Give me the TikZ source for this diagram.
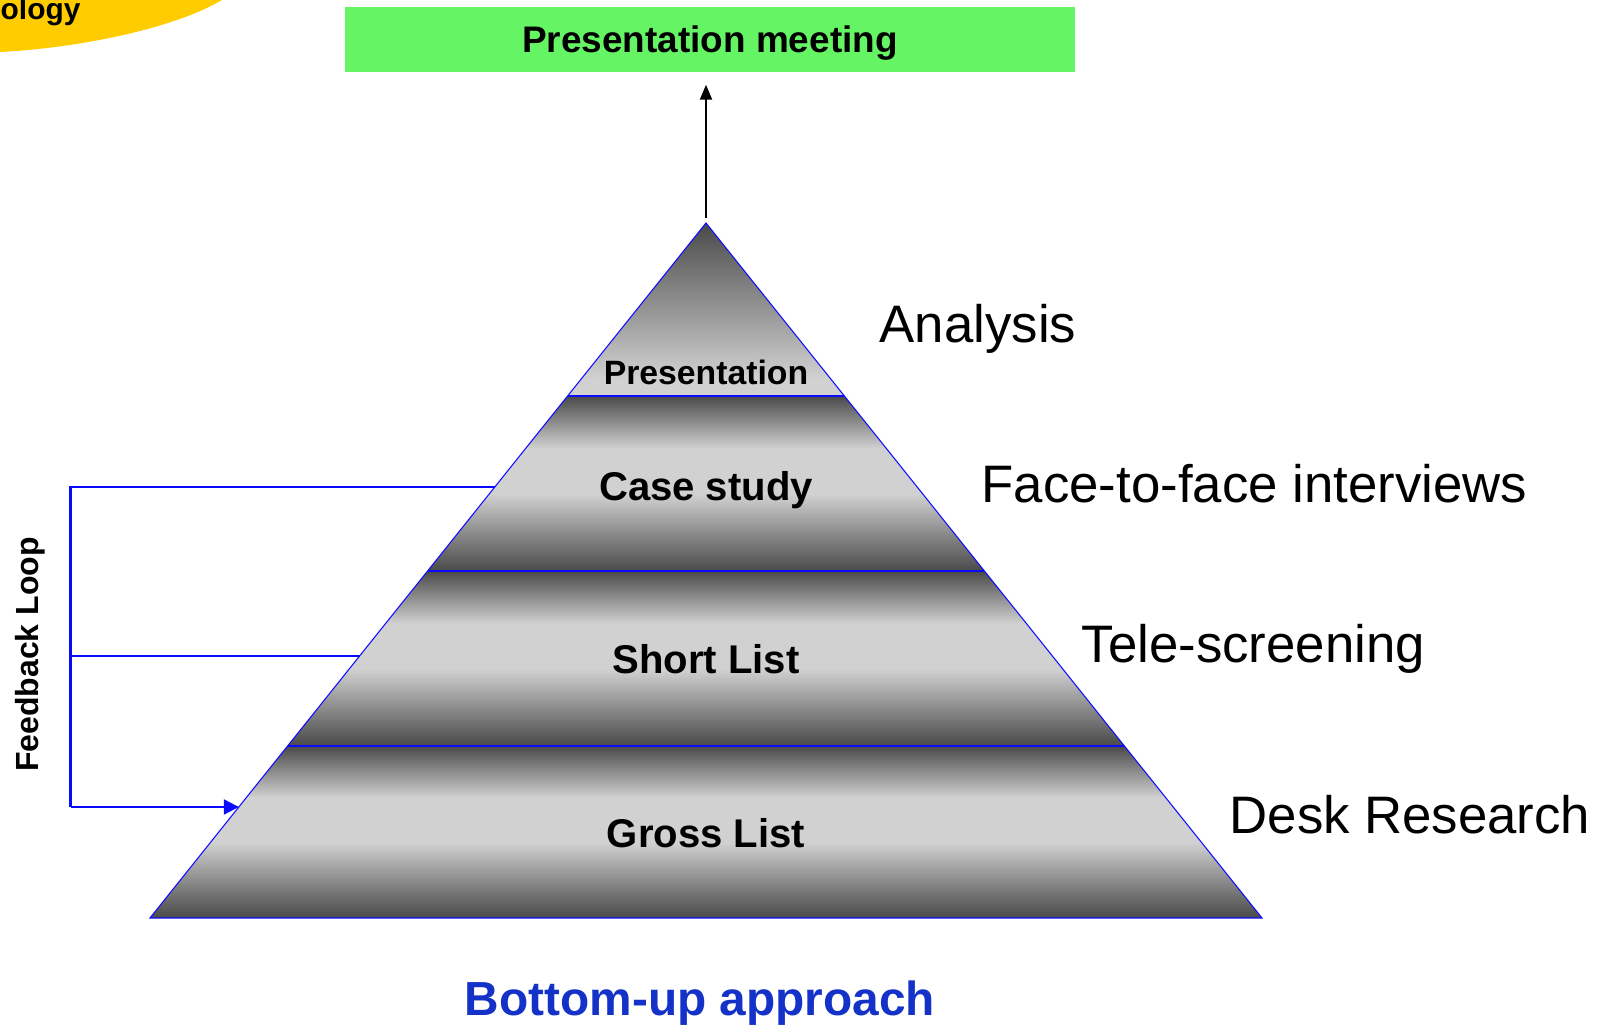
\documentclass[tikz,border=0pt]{standalone}
\usepackage{fontspec}
\setmainfont{Liberation Sans}
\usetikzlibrary{arrows.meta}

\definecolor{banddark}{gray}{0.29}
\definecolor{bandmid}{gray}{0.5}
\definecolor{bandlight}{gray}{0.82}
\definecolor{meetgreen}{RGB}{100,244,100}
\definecolor{fbblue}{RGB}{10,10,255}
\definecolor{titleblue}{RGB}{20,50,200}
\definecolor{tabyellow}{RGB}{255,204,0}

\pgfdeclareverticalshading{bandshade}{100bp}{color(0bp)=(banddark); color(25bp)=(banddark); color(34bp)=(bandmid); color(47bp)=(bandlight); color(60bp)=(bandlight); color(75bp)=(banddark); color(100bp)=(banddark)}
\pgfdeclareverticalshading{topshade}{100bp}{color(0bp)=(bandlight); color(30bp)=(bandlight); color(75bp)=(banddark); color(100bp)=(banddark)}

\tikzstyle{layer}=[font=\fontsize{11.4}{13}\selectfont\bfseries,
    anchor=base,
    inner sep=0pt]
\tikzstyle{method}=[font=\fontsize{15}{18}\selectfont,
    anchor=base west,
    inner sep=0pt]
\tikzstyle{meeting}=[rectangle,
    fill=meetgreen,
    minimum width=7.3cm,
    minimum height=0.65cm,
    inner sep=0pt,
    text height=0.72em,
    text depth=0pt,
    font=\fontsize{10.5}{12}\selectfont\bfseries]
\tikzstyle{edge}=[draw=fbblue, line width=0.3pt]
\tikzstyle{sep}=[draw=fbblue, line width=0.6pt]
\tikzstyle{fbline}=[draw=fbblue, line width=0.6pt]

\begin{document}
\begin{tikzpicture}[x=0.01cm,y=-0.01cm]
            \useasboundingbox (0,0) rectangle (1602,1025);
            \fill[tabyellow] (0,0) -- (222,0) .. controls (175,28) and (80,48) .. (0,52) -- cycle;
            \node (tab) [anchor=base west, inner sep=0pt, font=\fontsize{8.5}{10}\selectfont\bfseries] at (0,19.5) {ology};

            \coordinate (apex) at (706,223);
            \coordinate (bl) at (150,918);
            \coordinate (br) at (1262,918);
            \coordinate (l1) at (567.6,396);
            \coordinate (r1) at (844.4,396);
            \coordinate (l2) at (427.6,571);
            \coordinate (r2) at (984.4,571);
            \coordinate (l3) at (287.6,746);
            \coordinate (r3) at (1124.4,746);

            \shade[shading=topshade] (apex) -- (r1) -- (l1) -- cycle;
            \shade[shading=bandshade] (l1) -- (r1) -- (r2) -- (l2) -- cycle;
            \shade[shading=bandshade] (l2) -- (r2) -- (r3) -- (l3) -- cycle;
            \shade[shading=bandshade] (l3) -- (r3) -- (br) -- (bl) -- cycle;
            \draw[edge] (bl) -- (apex) -- (br) -- cycle;
            \draw[sep] (l1) -- (r1);
            \draw[sep] (l2) -- (r2);
            \draw[sep] (l3) -- (r3);

            \node (pres) [layer, font=\fontsize{9.6}{11}\selectfont\bfseries] at (706,385) {Presentation};
            \node (case) [layer] at (706,500.6) {Case study};
            \node (short) [layer] at (706,674) {Short List};
            \node (gross) [layer] at (706,848) {Gross List};

            \node (analysis) [method] at (879,343) {Analysis};
            \node (face) [method] at (981,503) {Face-to-face interviews};
            \node (tele) [method] at (1081,662.5) {Tele-screening};
            \node (desk) [method] at (1229,834) {Desk Research};

            \node (meet) [meeting] at (710,39.5) {Presentation meeting};
            \draw [draw, line width=0.6pt, -{Triangle[length=0.15cm,width=0.12cm]}, shorten <=0.05cm, shorten >=0.12cm] (apex) -- (apex |- meet.south);

            \coordinate (fbtop) at (70.5,487);
            \coordinate (fbmid) at (70.5,656);
            \coordinate (fblow) at (70.5,807);
            \coordinate (intop) at (494.8,487);
            \coordinate (inmid) at (359.6,656);
            \coordinate (inlow) at (238.8,807);
            \draw[fbline] (intop) -- (fbtop) -- (fblow);
            \draw[fbline] (inmid) -- (fbmid);
            \draw[fbline, -{Triangle[length=0.15cm,width=0.15cm]}] (fblow) -- (inlow);
            \node (fbtext) [rotate=90, anchor=base, inner sep=0pt, font=\fontsize{9.1}{11}\selectfont\bfseries] at (38.5,654.5) {Feedback Loop};

            \node (approach) [anchor=base, inner sep=0pt, text=titleblue, font=\fontsize{13.6}{16}\selectfont\bfseries] at (700,1016) {Bottom-up approach};
        \end{tikzpicture}
\end{document}
